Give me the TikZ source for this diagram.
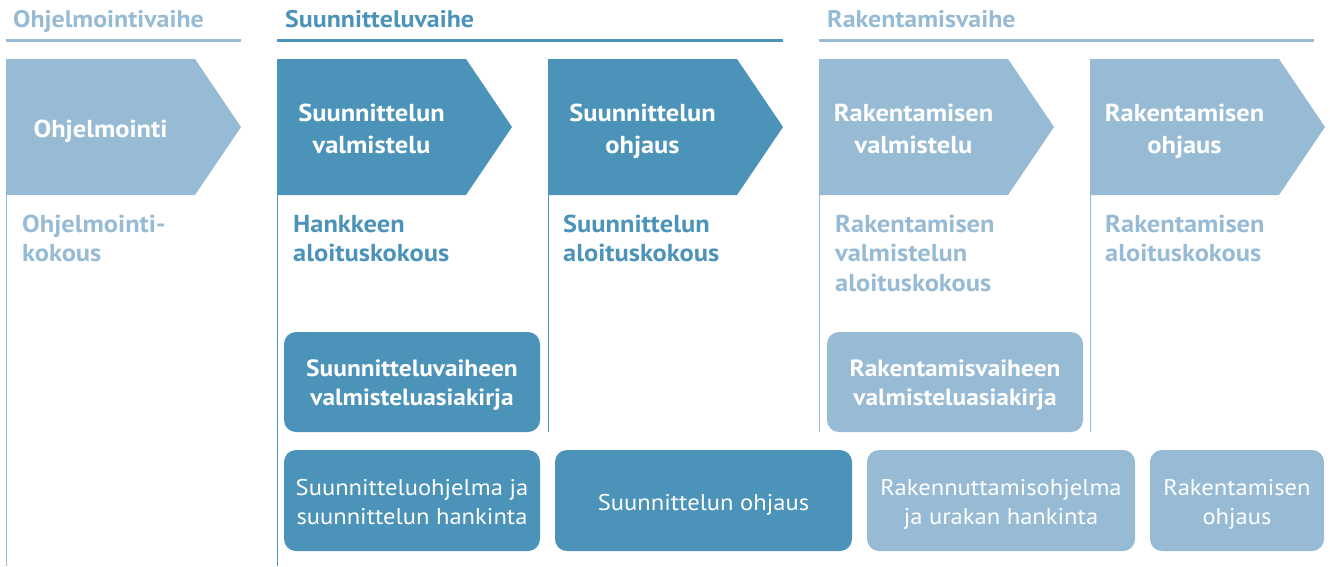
\documentclass[tikz,border=0pt]{standalone}
\usepackage{fontspec}
\setmainfont{PT Sans}[FakeStretch=1.08]
\definecolor{dk}{HTML}{4B93B8}
\definecolor{lt}{HTML}{97BBD5}
\newcommand\mychev[5]{%
  \fill[#2] (#1,59) -- ++(189,0) -- ++(46,68) -- ++(-46,68) -- (#1,195) -- cycle;
  \node[chevtext, text height=#5] (#3) at (#1+94.5,128) {#4};
}
\tikzset{
  chevtext/.style={align=center, text=white, inner sep=0pt, text depth=0pt,
    font=\bfseries\fontsize{24.5}{32}\selectfont},
  headtext/.style={anchor=base west, inner sep=0pt,
    font=\bfseries\fontsize{24}{29}\selectfont},
  subtext/.style={anchor=base west, inner sep=0pt, align=left,
    font=\bfseries\fontsize{24.5}{29.5}\selectfont},
  boldbox/.style={rounded corners=12pt, align=center, text=white, inner sep=0pt,
    text depth=0pt, font=\bfseries\fontsize{23.5}{28.5}\selectfont},
  plainbox/.style={rounded corners=12pt, align=center, text=white, inner sep=0pt,
    text depth=0pt, font=\fontsize{22.75}{28.5}\selectfont},
  vline/.style={line width=1.3pt},
  hline/.style={line width=3pt}
}
\begin{document}
\begin{tikzpicture}[x=1pt,y=-1pt]
\useasboundingbox (0,0) rectangle (1330,566);
% headers
\node[headtext, text=lt] (h1) at (13,27.5) {Ohjelmointivaihe};
\node[headtext, text=dk] (h2) at (285,27.5) {Suunnitteluvaihe};
\node[headtext, text=lt] (h3) at (827,27.5) {Rakentamisvaihe};
\coordinate (l1a) at (6,40); \coordinate (l1b) at (241,40);
\coordinate (l2a) at (277,40); \coordinate (l2b) at (783,40);
\coordinate (l3a) at (819,40); \coordinate (l3b) at (1314,40);
\draw[hline, lt] (l1a) -- (l1b);
\draw[hline, dk] (l2a) -- (l2b);
\draw[hline, lt] (l3a) -- (l3b);
% vertical lines
\coordinate (v1a) at (6.5,195); \coordinate (v1b) at (6.5,566);
\coordinate (v2a) at (277.5,195); \coordinate (v2b) at (277.5,566);
\coordinate (v3a) at (548.5,195); \coordinate (v3b) at (548.5,432);
\coordinate (v4a) at (819.5,195); \coordinate (v4b) at (819.5,432);
\coordinate (v5a) at (1090.5,195); \coordinate (v5b) at (1090.5,432);
\draw[vline, lt] (v1a) -- (v1b);
\draw[vline, dk] (v2a) -- (v2b);
\draw[vline, dk] (v3a) -- (v3b);
\draw[vline, lt] (v4a) -- (v4b);
\draw[vline, lt] (v5a) -- (v5b);
% chevrons
\mychev{6}{lt}{c1}{Ohjelmointi}{18pt}
\mychev{277}{dk}{c2}{Suunnittelun\\valmistelu}{50pt}
\mychev{548}{dk}{c3}{Suunnittelun\\ohjaus}{50pt}
\mychev{819}{lt}{c4}{Rakentamisen\\valmistelu}{50pt}
\mychev{1090}{lt}{c5}{Rakentamisen\\ohjaus}{50pt}
% meetings (base = baseline of last line)
\node[subtext, text=lt] (m1) at (22,261.5) {Ohjelmointi-\\kokous};
\node[subtext, text=dk] (m2) at (293,261.5) {Hankkeen\\aloituskokous};
\node[subtext, text=dk] (m3) at (563,261.5) {Suunnittelun\\aloituskokous};
\node[subtext, text=lt] (m4) at (835,291) {Rakentamisen\\valmistelun\\aloituskokous};
\node[subtext, text=lt] (m5) at (1105,261.5) {Rakentamisen\\aloituskokous};
% documents
\node[boldbox, fill=dk, text height=46pt, minimum width=256pt, minimum height=100pt] (d1) at (412,382)
  {Suunnitteluvaiheen\\valmisteluasiakirja};
\node[boldbox, fill=lt, text height=46pt, minimum width=256pt, minimum height=100pt] (d2) at (955,382)
  {Rakentamisvaiheen\\valmisteluasiakirja};
% tasks
\node[plainbox, fill=dk, text height=47pt, minimum width=256pt, minimum height=101pt] (t1) at (412,500.5)
  {Suunnitteluohjelma ja\\suunnittelun hankinta};
\node[plainbox, fill=dk, text height=19pt, minimum width=297pt, minimum height=101pt] (t2) at (703.5,500.5)
  {Suunnittelun ohjaus};
\node[plainbox, fill=lt, text height=47pt, minimum width=268pt, minimum height=101pt] (t3) at (1001,500.5)
  {Rakennuttamisohjelma\\ja urakan hankinta};
\node[plainbox, fill=lt, text height=47pt, minimum width=174pt, minimum height=101pt] (t4) at (1237,500.5)
  {Rakentamisen\\ohjaus};
\end{tikzpicture}
\end{document}
